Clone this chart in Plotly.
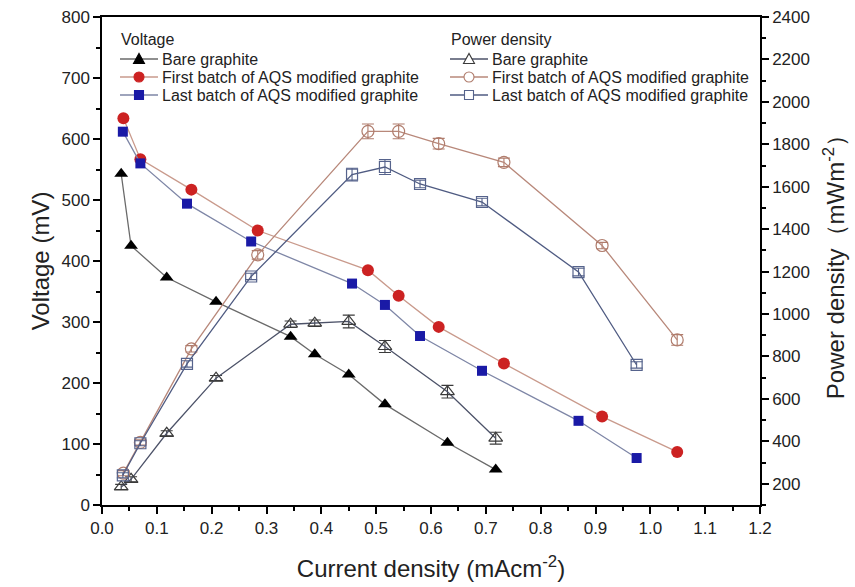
import plotly.graph_objects as go

# Current density (mA cm^-2)
x_bare = [0.035, 0.053, 0.118, 0.208, 0.344, 0.388, 0.450, 0.516, 0.630, 0.718]
x_first = [0.039, 0.070, 0.163, 0.284, 0.485, 0.541, 0.614, 0.733, 0.912, 1.049]
x_last = [0.038, 0.070, 0.155, 0.272, 0.456, 0.516, 0.580, 0.693, 0.869, 0.975]

# Voltage (mV)
v_bare = [543, 425, 373, 333, 276, 247, 214, 165, 102, 58]
v_first = [634, 567, 517, 450, 385, 343, 292, 232, 145, 87]
v_last = [612, 560, 494, 432, 363, 328, 277, 220, 138, 77]

# Power density (mW m^-2)
p_bare = [185, 221, 438, 698, 952, 957, 965, 847, 634, 415]
p_first = [250, 395, 836, 1279, 1861, 1861, 1803, 1715, 1323, 878]
p_last = [240, 391, 765, 1177, 1657, 1693, 1613, 1528, 1198, 760]

# Power density error bars
e_bare = [12, 12, 12, 12, 15, 15, 30, 28, 30, 28]
e_first = [12, 12, 15, 20, 35, 35, 25, 20, 15, 25]
e_last = [12, 12, 15, 15, 30, 35, 18, 18, 18, 15]

names = ["Bare graphite", "First batch of AQS modified graphite", "Last batch of AQS modified graphite"]
legend_titles = ["Voltage", "Power density"]

FONT = "Liberation Sans, Arial, sans-serif"
TXT = "#222222"
fig = go.Figure()

# style: (symbol, marker colour, line colour, size)
v_styles = [("triangle-up", "#000000", "#6a6a6a", 12),
            ("circle", "#cc2222", "#c99a8c", 12),
            ("square", "#1a1aa6", "#7e86a6", 10)]
p_styles = [("triangle-up-open", "#3a3a3a", "#4c5268", 12),
            ("circle-open", "#b07c6c", "#b8887a", 12),
            ("square-open", "#56638c", "#4f5b82", 11)]

for xs, ys, (sym, mc, lc, ms), nm in zip([x_bare, x_first, x_last], [v_bare, v_first, v_last], v_styles, names):
    fig.add_trace(go.Scatter(
        x=xs, y=ys, name=nm, mode="lines+markers", showlegend=False,
        line=dict(color=lc, width=1.3),
        marker=dict(symbol=sym, color=mc, size=ms, line=dict(width=0)),
        yaxis="y",
    ))

for xs, ys, es, (sym, mc, lc, ms), nm in zip([x_bare, x_first, x_last], [p_bare, p_first, p_last],
                                            [e_bare, e_first, e_last], p_styles, names):
    fig.add_trace(go.Scatter(
        x=xs, y=ys, name=nm, mode="lines+markers", showlegend=False,
        line=dict(color=lc, width=1.3),
        marker=dict(symbol=sym, color=mc, size=ms, line=dict(width=1.2, color=mc)),
        error_y=dict(type="data", array=es, visible=True, color=mc, thickness=1.1, width=6),
        yaxis="y2",
    ))

# ---- hand-built legend (layout decoration in paper coordinates) ----
L, R, T, B = 102, 95, 17, 82
PW, PH = 855 - L - R, 587 - T - B


def pxx(x):
    return (x - L) / PW


def pyy(y):
    return (587 - B - y) / PH


shapes = []
annotations = []
col_x = [120, 450]        # left of line sample / title
row_title_y = 40
row_y = [59, 77, 95]
for col, (title, styles, filled) in enumerate(zip(legend_titles, [v_styles, p_styles], [True, False])):
    x0 = col_x[col]
    annotations.append(dict(x=pxx(x0 - 1), y=pyy(row_title_y), xref="paper", yref="paper",
                            text=title, showarrow=False, xanchor="left", yanchor="middle",
                            font=dict(family=FONT, size=16, color=TXT)))
    for (sym, mc, lc, ms), nm, yy in zip(styles, names, row_y):
        xc = x0 + 19
        shapes.append(dict(type="line", xref="paper", yref="paper",
                           x0=pxx(x0), x1=pxx(x0 + 38), y0=pyy(yy), y1=pyy(yy),
                           line=dict(color=lc, width=1.3)))
        fill = mc if filled else "white"
        r = 5 if "square" not in sym else 4.5
        if "triangle" in sym:
            path = "M {} {} L {} {} L {} {} Z".format(
                pxx(xc - 5.5), pyy(yy + 4.5), pxx(xc + 5.5), pyy(yy + 4.5), pxx(xc), pyy(yy - 5.5))
            shapes.append(dict(type="path", xref="paper", yref="paper", path=path,
                               fillcolor=fill, line=dict(color=mc, width=1.1)))
        elif "circle" in sym:
            shapes.append(dict(type="circle", xref="paper", yref="paper",
                               x0=pxx(xc - r), x1=pxx(xc + r), y0=pyy(yy + r), y1=pyy(yy - r),
                               fillcolor=fill, line=dict(color=mc, width=1.1)))
        else:
            shapes.append(dict(type="rect", xref="paper", yref="paper",
                               x0=pxx(xc - r), x1=pxx(xc + r), y0=pyy(yy + r), y1=pyy(yy - r),
                               fillcolor=fill, line=dict(color=mc, width=1.1)))
        annotations.append(dict(x=pxx(x0 + 40), y=pyy(yy), xref="paper", yref="paper",
                                text=nm, showarrow=False, xanchor="left", yanchor="middle",
                                font=dict(family=FONT, size=16, color=TXT)))

axis_common = dict(
    showline=True, linecolor="black", linewidth=1.5,
    ticks="outside", ticklen=7, tickwidth=1.5, tickcolor="black",
    showgrid=False, zeroline=False, automargin=False,
    tickfont=dict(family=FONT, size=17, color=TXT),
)
minor_common = dict(ticks="outside", ticklen=4, tickwidth=1.5, tickcolor="black")

fig.update_layout(
    width=855, height=587,
    margin=dict(l=L, r=R, t=T, b=B),
    paper_bgcolor="white", plot_bgcolor="white",
    font=dict(family=FONT, color=TXT),
    showlegend=False,
    shapes=shapes,
    annotations=annotations,
    xaxis=dict(
        range=[0, 1.2], tick0=0, dtick=0.1, tickformat=".1f", mirror=True,
        minor=dict(dtick=0.05, **minor_common),
        title=dict(text="Current density (mAcm<sup>-2</sup>)", font=dict(family=FONT, size=24, color=TXT), standoff=23),
        **axis_common,
    ),
    yaxis=dict(
        range=[0, 800], tick0=0, dtick=100,
        minor=dict(dtick=50, **minor_common),
        title=dict(text="Voltage (mV)", font=dict(family=FONT, size=24, color=TXT), standoff=5),
        **axis_common,
    ),
    yaxis2=dict(
        range=[100, 2400], tick0=200, dtick=200, overlaying="y", side="right",
        minor=dict(dtick=100, **minor_common),
        title=dict(text="Power density（mWm<sup>-2</sup>）", font=dict(family=FONT, size=24, color=TXT), standoff=18),
        **axis_common,
    ),
)

fig.write_html("out.html")
